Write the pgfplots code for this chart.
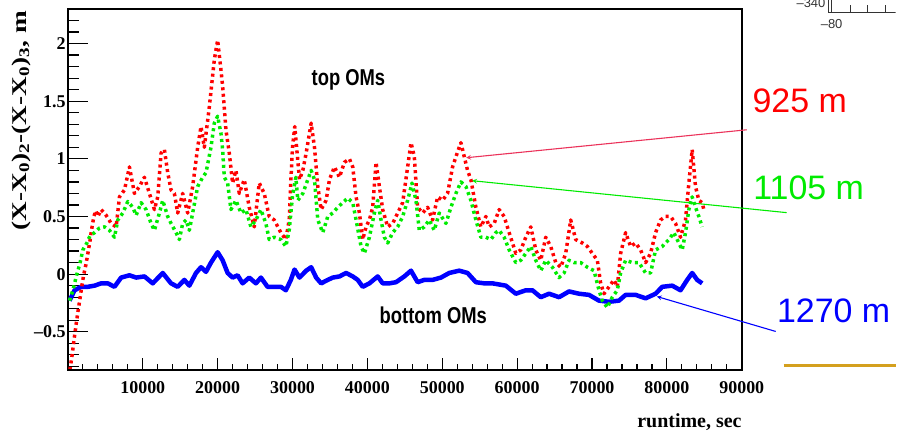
\documentclass[border=0pt]{standalone}
\usepackage{pgfplots}
\pgfplotsset{compat=1.18}
\usepackage{fontspec}
\setmainfont{Liberation Serif}
\newfontfamily\arial{Liberation Sans}
\definecolor{pinkred}{RGB}{235,50,90}
\definecolor{limegreen}{RGB}{0,235,0}
\definecolor{gold}{RGB}{212,160,30}
\begin{document}
\begin{tikzpicture}
\path (0pt,0pt) rectangle (897pt,-433pt);
% main axis with data and y ticks
\begin{axis}[
 at={(68pt,-371pt)}, anchor=south west, scale only axis, width=675pt, height=362pt,
 xmin=0, xmax=90000, ymin=-0.835, ymax=2.3,
 axis line style={line width=2pt},
 xtick=\empty, scaled x ticks=false, scaled y ticks=false,
 ytick={-0.5,0,0.5,1,1.5,2},
 yticklabels={\textbf{\textendash0.5},\textbf{0},\textbf{0.5},\textbf{1},\textbf{1.5},\textbf{2}},
 minor ytick={-0.8,-0.7,...,2.25},
 ytick pos=left, tick align=inside,
 major tick length=20pt, minor tick length=11pt,
 every tick/.style={black, line width=1.2pt},
 yticklabel style={font=\fontsize{18}{18}\selectfont\bfseries\rmfamily, inner sep=2pt},
]
\addplot[color=blue, line width=4.5pt, line join=round] coordinates {
(222,-0.23)(889,-0.14)(1778,-0.11)(2667,-0.11)(3556,-0.10)(4444,-0.08)(5333,-0.08)(6222,-0.11)(7111,-0.03)(8222,-0.01)(9111,-0.03)(10222,-0.02)(11333,-0.08)(12667,0.01)(13778,-0.08)(14667,-0.11)(15556,-0.05)(16222,-0.10)(17111,0.01)(17778,0.06)(18444,0.02)(19111,0.10)(20000,0.19)(20667,0.12)(21333,0.01)(22000,-0.03)(22667,-0.01)(23333,-0.08)(24222,-0.03)(25111,-0.08)(25778,-0.03)(26667,-0.11)(27556,-0.11)(28444,-0.11)(29111,-0.14)(29778,-0.05)(30267,0.04)(30933,-0.03)(31822,0.03)(32489,0.06)(33156,-0.03)(33822,-0.08)(34711,-0.05)(35378,-0.03)(36267,-0.02)(37156,0.01)(38044,-0.02)(38711,-0.05)(39378,-0.11)(40267,-0.08)(41378,-0.02)(42044,-0.08)(42933,-0.08)(43822,-0.07)(44933,-0.02)(45822,0.03)(46711,-0.07)(47600,-0.05)(48711,-0.05)(49822,-0.03)(50933,0.01)(52267,0.03)(53378,0.01)(54489,-0.07)(55600,-0.08)(56711,-0.08)(57600,-0.09)(58489,-0.10)(59822,-0.17)(61156,-0.14)(62044,-0.14)(63156,-0.20)(64267,-0.17)(65600,-0.20)(66933,-0.15)(68267,-0.17)(69600,-0.18)(70933,-0.23)(72267,-0.24)(73600,-0.23)(74489,-0.18)(75822,-0.18)(77156,-0.21)(78489,-0.17)(79378,-0.11)(80711,-0.10)(81822,-0.14)(82711,-0.05)(83378,0.01)(84044,-0.05)(84711,-0.08)
};
\addplot[color=red, line width=3.5pt, line join=round, dash pattern=on 3pt off 3.5pt] coordinates {
(270,-0.83)(530,-0.72)(800,-0.58)(1070,-0.45)(1330,-0.33)(1600,-0.22)(1870,-0.10)(2130,0.0)(2400,0.08)(2670,0.18)(2930,0.28)(3200,0.40)(3470,0.50)(3730,0.55)(4000,0.50)(4444,0.56)(5111,0.51)(5778,0.44)(6444,0.41)(6889,0.67)(7556,0.73)(8222,0.93)(8889,0.70)(9556,0.76)(10222,0.84)(10889,0.70)(11556,0.56)(12000,0.67)(12444,1.05)(12889,1.08)(13333,0.88)(13778,0.73)(14222,0.70)(14667,0.53)(15333,0.70)(16000,0.53)(16667,0.76)(17333,1.10)(17778,1.28)(18222,1.10)(18889,1.45)(19556,1.86)(20000,2.03)(20444,1.77)(20667,1.63)(21111,1.25)(21556,1.05)(22000,0.79)(22444,0.90)(22889,0.70)(23556,0.82)(24222,0.58)(24889,0.41)(25556,0.79)(26222,0.70)(26889,0.50)(27556,0.47)(28444,0.36)(29111,0.30)(29556,0.47)(29800,0.84)(30000,1.10)(30300,1.28)(30933,0.82)(31378,0.90)(31822,1.05)(32489,1.31)(32933,1.10)(33378,0.76)(33822,0.56)(34489,0.64)(34933,0.82)(35600,0.93)(36267,0.84)(36933,0.97)(37600,1.00)(38044,0.93)(38489,0.67)(38933,0.53)(39378,0.30)(39822,0.41)(40267,0.47)(40711,0.58)(41156,0.97)(41600,0.76)(42044,0.56)(42711,0.41)(43378,0.44)(44044,0.53)(44711,0.62)(45378,0.93)(45822,1.14)(46267,1.02)(46711,0.58)(47378,0.53)(48044,0.58)(48711,0.47)(49378,0.67)(50044,0.64)(50711,0.70)(51378,0.93)(52044,1.06)(52489,1.14)(52933,1.02)(53378,0.90)(53822,0.82)(54489,0.58)(55156,0.41)(55822,0.50)(56267,0.41)(56933,0.44)(57600,0.56)(58267,0.50)(58933,0.36)(59822,0.18)(60489,0.21)(61156,0.32)(61822,0.41)(62489,0.21)(63156,0.12)(63822,0.32)(64489,0.24)(65156,0.10)(65822,0.06)(66489,0.18)(67156,0.47)(67822,0.30)(68711,0.27)(69378,0.24)(70044,0.18)(70711,0.12)(71156,-0.08)(71600,-0.17)(72267,-0.11)(72933,-0.05)(73378,-0.11)(73822,0.18)(74489,0.36)(75156,0.24)(75822,0.27)(76489,0.21)(77156,0.10)(77822,0.18)(78489,0.36)(79156,0.47)(79822,0.50)(80489,0.50)(81156,0.44)(81822,0.32)(82489,0.47)(82933,0.79)(83378,1.08)(83822,0.76)(84267,0.64)(84711,0.62)(84933,0.56)
};
\addplot[color=limegreen, line width=3.5pt, line join=round, dash pattern=on 3pt off 3.5pt] coordinates {
(222,-0.23)(667,-0.14)(1200,0.0)(1600,0.09)(2000,0.21)(2533,0.27)(2933,0.33)(3556,0.36)(4222,0.40)(4889,0.41)(5556,0.38)(6222,0.32)(6667,0.47)(7333,0.53)(8000,0.63)(8667,0.58)(9111,0.51)(9778,0.62)(10444,0.56)(11111,0.44)(11556,0.38)(12222,0.53)(12667,0.64)(13333,0.50)(13778,0.44)(14444,0.36)(14889,0.30)(15333,0.44)(15778,0.47)(16222,0.38)(16667,0.53)(17333,0.76)(18000,0.84)(18444,0.88)(19111,1.10)(19556,1.31)(20000,1.37)(20444,1.22)(20667,1.08)(20889,0.84)(21333,0.79)(21778,0.56)(22444,0.64)(23111,0.53)(23778,0.56)(24444,0.41)(25111,0.47)(25778,0.56)(26444,0.44)(26889,0.30)(27556,0.32)(28444,0.30)(29111,0.24)(29556,0.38)(30000,0.68)(30444,0.84)(30711,0.64)(31378,0.70)(32044,0.82)(32489,0.90)(32933,0.82)(33378,0.47)(34044,0.36)(34711,0.50)(35378,0.53)(36044,0.58)(36711,0.62)(37378,0.66)(38044,0.62)(38489,0.47)(39156,0.24)(39600,0.18)(40267,0.32)(40933,0.53)(41378,0.64)(41822,0.47)(42267,0.32)(42711,0.27)(43378,0.36)(44044,0.41)(44711,0.50)(45378,0.64)(45956,0.79)(46489,0.64)(46933,0.38)(47600,0.41)(48267,0.47)(48933,0.38)(49600,0.53)(50489,0.44)(51156,0.58)(51822,0.70)(52489,0.80)(53156,0.76)(53822,0.64)(54489,0.47)(55156,0.32)(55822,0.32)(56489,0.30)(57156,0.36)(57600,0.38)(58267,0.32)(58933,0.21)(59822,0.10)(60489,0.12)(61156,0.18)(61822,0.24)(62489,0.12)(63156,0.03)(63822,0.12)(64711,0.06)(65600,-0.03)(66267,0.01)(66933,0.12)(67600,0.10)(68489,0.10)(69378,0.06)(70267,0.03)(70933,-0.14)(71378,-0.23)(72044,-0.29)(72711,-0.20)(73378,-0.14)(73822,0.01)(74489,0.12)(75378,0.10)(76267,0.10)(77156,0.01)(77822,0.01)(78489,0.21)(79378,0.24)(80267,0.30)(80933,0.36)(81600,0.27)(82044,0.21)(82489,0.36)(82933,0.56)(83378,0.67)(83822,0.58)(84267,0.50)(84711,0.41)
};
\end{axis}
% second axis: x ticks only
\begin{axis}[
 at={(68pt,-371pt)}, anchor=south west, scale only axis, width=675pt, height=362pt,
 xmin=0, xmax=90000, ymin=-0.835, ymax=2.3,
 axis x line*=bottom, axis y line=none,
 x axis line style={line width=2pt, -},
 scaled x ticks=false, scaled y ticks=false,
 xtick={0,10000,...,90000},
 xticklabels={{},\textbf{10000},\textbf{20000},\textbf{30000},\textbf{40000},\textbf{50000},\textbf{60000},\textbf{70000},\textbf{80000},\textbf{90000}},
 minor xtick={2000,4000,...,88000},
 tick align=inside, major tick length=12pt, minor tick length=6pt,
 every tick/.style={black,line width=1.2pt},
 xticklabel style={font=\fontsize{18}{18}\selectfont\bfseries\rmfamily, inner sep=2pt, yshift=-9pt},
]
\addplot[draw=none] coordinates {(0,0)};
\end{axis}
\begin{scope}[x=1pt,y=1pt]
% axis titles
\node[rotate=90] at (21,-121) {\scalebox{1.3}[1]{\fontsize{21}{21}\selectfont\bfseries (X-X\textsubscript{0})\textsubscript{2}-(X-X\textsubscript{0})\textsubscript{3}, m}};
\node[anchor=base east, inner sep=0pt] at (743,-428) {\fontsize{20}{20}\selectfont\bfseries runtime, sec};
% in-plot labels
\node at (349,-80) {\scalebox{0.92}[1.15]{\arial\bfseries\fontsize{20}{20}\selectfont top OMs}};
\node at (434,-316) {\scalebox{0.92}[1.15]{\arial\bfseries\fontsize{20}{20}\selectfont bottom OMs}};
% annotations
\draw[pinkred, line width=1.1pt, <-, >=stealth] (467,-158) -- (748,-130);
\draw[limegreen, line width=1.1pt, <-, >=stealth] (473,-181) -- (788,-213);
\draw[blue, line width=1.1pt, <-, >=stealth] (658,-297) -- (777,-332);
\node[red] at (801,-101) {\arial\fontsize{34}{34}\selectfont 925 m};
\node[limegreen] at (810,-188) {\arial\fontsize{34}{34}\selectfont 1105 m};
\node[blue] at (835,-311) {\arial\fontsize{34}{34}\selectfont 1270 m};
% gold line
\draw[gold, line width=3pt] (785,-366) -- (897,-366);
% fragment of a neighbouring plot (top right)
\begin{scope}
\clip (740,0) rectangle (897,-40);
\draw[black!80, line width=0.8pt] (830,0) -- (830,-12) -- (897,-12);
\draw[black!80, line width=0.8pt] (833,0) -- (833,-12);
\foreach \t in {852,869,887} \draw[black!80, line width=0.8pt] (\t,-12) -- (\t,-5);
\node[black!80, anchor=east, inner sep=1pt] at (828,-3) {\arial\fontsize{13}{13}\selectfont \textendash340};
\node[black!80] at (833,-24) {\arial\fontsize{13}{13}\selectfont \textendash80};
\end{scope}
\end{scope}
\end{tikzpicture}
\end{document}
